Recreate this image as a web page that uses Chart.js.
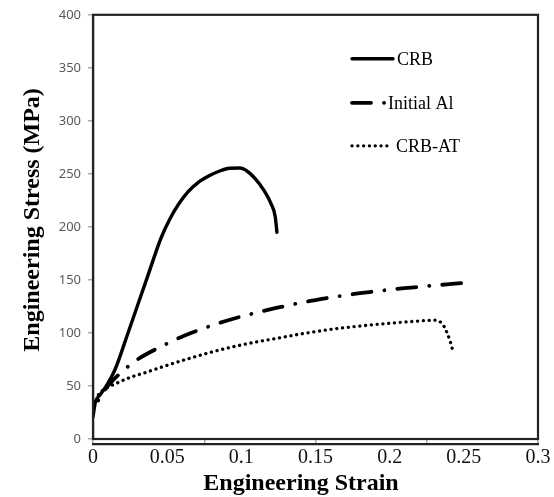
<!DOCTYPE html>
<html><head><meta charset="utf-8">
<script src="https://cdn.jsdelivr.net/npm/chart.js@4/dist/chart.umd.min.js"></script>
<style>html,body{margin:0;padding:0;background:#fff;}canvas{display:block;}</style>
</head><body>
<canvas id="c" width="554" height="497"></canvas>
<script>
const seriesNames = ['CRB', 'Initial Al', 'CRB-AT'];

const crbStrain = [0, 0.0015, 0.005, 0.009, 0.015, 0.0236, 0.036, 0.046, 0.052, 0.058, 0.064, 0.071, 0.078, 0.085, 0.092, 0.099, 0.104, 0.109, 0.115, 0.120, 0.1228, 0.124];
const crbStress = [21, 34, 42, 50, 66, 100, 150, 190, 208, 222, 233, 242, 248, 252.5, 255.3, 255.5, 252.5, 246, 235, 222, 210, 195];

const alStrain = [0, 0.005, 0.01, 0.02, 0.03, 0.04, 0.05, 0.06, 0.07, 0.08, 0.09, 0.1, 0.11, 0.12, 0.13, 0.14, 0.15, 0.16, 0.17, 0.18, 0.19, 0.2, 0.21, 0.22, 0.23, 0.24, 0.2486];
const alStress = [26, 40, 50, 64, 75, 83, 90, 96.5, 102, 107, 111.5, 115.5, 119, 122.5, 125.5, 128.5, 131, 133.5, 135.5, 137.5, 139.2, 140.8, 142.2, 143.5, 144.8, 146, 147];

const atStrain = [0, 0.003, 0.008, 0.015, 0.025, 0.035, 0.05, 0.065, 0.08, 0.095, 0.11, 0.125, 0.14, 0.155, 0.17, 0.185, 0.2, 0.215, 0.225, 0.2305, 0.234, 0.2365, 0.239, 0.2408, 0.2423];
const atStress = [26, 40, 47, 52, 58, 62.5, 69.5, 76, 82, 87.2, 91.5, 95.2, 99, 102.3, 105, 107.2, 109.2, 110.8, 111.8, 112, 110.5, 106.5, 99, 92, 84.7];

const xTickLabels = ['0', '0.05', '0.1', '0.15', '0.2', '0.25', '0.3'];
const yTickLabels = ['0', '50', '100', '150', '200', '250', '300', '350', '400'];
const xTitle = 'Engineering Strain';
const yTitle = 'Engineering Stress (MPa)';

function pts(xs, ys) { return xs.map((x, i) => ({ x: x, y: ys[i] })); }

const styles = [
  { borderWidth: 3.4, borderDash: [], borderCapStyle: 'round' },
  { borderWidth: 3.8, borderDash: [19, 13, 0.1, 13], borderDashOffset: 20, borderCapStyle: 'round' },
  { borderWidth: 3.3, borderDash: [0.1, 5.7], borderCapStyle: 'round' }
];
const seriesData = [pts(crbStrain, crbStress), pts(alStrain, alStress), pts(atStrain, atStress)];

const datasets = seriesNames.map((name, i) => Object.assign({
  label: name,
  data: seriesData[i],
  showLine: true,
  borderColor: '#000',
  backgroundColor: '#000',
  pointRadius: 0,
  fill: false,
  cubicInterpolationMode: 'monotone'
}, styles[i]));

const bgPlugin = {
  id: 'bg',
  beforeDraw(chart) {
    const ctx = chart.ctx;
    ctx.save(); ctx.fillStyle = '#fff'; ctx.fillRect(0, 0, chart.width, chart.height); ctx.restore();
  }
};

const framePlugin = {
  id: 'frame',
  afterDraw(chart) {
    const { ctx, chartArea: a } = chart;
    ctx.save();
    ctx.strokeStyle = '#222';
    ctx.lineWidth = 2.2;
    ctx.strokeRect(a.left, a.top, a.right - a.left, a.bottom - a.top);
    // axis titles
    ctx.fillStyle = '#000';
    ctx.font = 'bold 24px "Liberation Serif", serif';
    ctx.textAlign = 'center';
    ctx.textBaseline = 'alphabetic';
    ctx.fillText(xTitle, a.left + 208, 490);
    ctx.save();
    ctx.translate(39, (a.top + a.bottom) / 2 - 7);
    ctx.rotate(-Math.PI / 2);
    ctx.font = 'bold 24px "Liberation Serif", serif';
    ctx.fillText(yTitle, 0, 0);
    ctx.restore();
    // legend
    const rowY = [44, 88, 131];
    const lineEnd = [41, 33, 38];
    ctx.font = '18px "Liberation Serif", serif';
    ctx.textAlign = 'left';
    ctx.textBaseline = 'middle';
    chart.data.datasets.forEach((ds, i) => {
      const y = a.top + rowY[i];
      const x0 = a.left + 259;
      ctx.save();
      ctx.strokeStyle = ds.borderColor;
      ctx.lineWidth = ds.borderWidth;
      ctx.lineCap = ds.borderCapStyle;
      ctx.setLineDash(ds.borderDash);
      ctx.beginPath(); ctx.moveTo(x0, y); ctx.lineTo(x0 + lineEnd[i], y); ctx.stroke();
      ctx.restore();
      ctx.fillStyle = '#000';
      ctx.fillText(ds.label, x0 + [45, 36, 44][i], y + 1);
    });
    ctx.restore();
  }
};

new Chart(document.getElementById('c'), {
  type: 'scatter',
  data: { datasets: datasets },
  options: {
    responsive: false,
    animation: false,
    layout: { padding: { left: 33, right: 16, top: 14, bottom: 0 } },
    plugins: { legend: { display: false }, tooltip: { enabled: false } },
    scales: {
      x: {
        type: 'linear', position: 'bottom', weight: 1,
        min: 0, max: 0.3,
        afterFit(s) { s.height = 53; },
        ticks: {
          stepSize: 0.05, padding: 2,
          color: '#111',
          font: { family: '"Liberation Serif", serif', size: 20 },
          callback: (v, i) => xTickLabels[i]
        },
        grid: { drawOnChartArea: false, drawTicks: false, display: false },
        border: { display: true, color: '#222', width: 2.2 }
      },
      x2: {
        type: 'linear', position: 'bottom', weight: 0,
        min: 0, max: 0.3,
        afterFit(s) { s.height = 5; },
        ticks: { stepSize: 0.075, display: false },
        grid: { drawOnChartArea: false, tickLength: 5, color: '#aaa', lineWidth: 1.5 },
        border: { display: false }
      },
      y: {
        type: 'linear', position: 'left',
        min: 0, max: 400,
        afterFit(s) { s.width = 60; },
        ticks: {
          stepSize: 50, padding: 7,
          color: '#595959',
          font: { family: '"Noto Sans", sans-serif', size: 13 },
          callback: (v, i) => yTickLabels[i]
        },
        grid: { drawOnChartArea: false, tickLength: 5, color: '#aaa', lineWidth: 1.5 },
        border: { display: true, color: '#222', width: 2.2 }
      }
    }
  },
  plugins: [bgPlugin, framePlugin]
});
</script>
</body></html>
